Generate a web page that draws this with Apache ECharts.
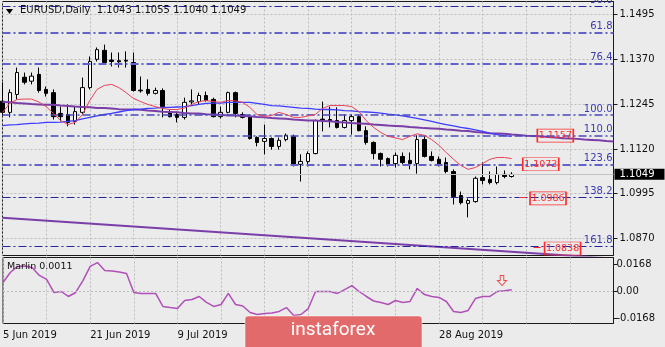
<!DOCTYPE html>
<html><head><meta charset="utf-8">
<script src="https://cdn.jsdelivr.net/npm/echarts@6/dist/echarts.min.js"></script>
<style>html,body{margin:0;padding:0;background:#ebebeb;}#c{width:665px;height:347px;}</style>
</head><body><div id="c"></div>
<script>
// ---- categories (trading days 5 Jun 2019 .. 11 Sep 2019) ----
const junDays = [5,6,7,10,11,12,13,14,17,18,19,20,21,24,25,26,27,28];
const julDays = [1,2,3,4,5,8,9,10,11,12,15,16,17,18,19,22,23,24,25,26,29,30,31];
const augDays = [1,2,5,6,7,8,9,12,13,14,15,16,19,20,21,22,23,26,27,28,29,30];
const sepDays = [2,3,4,5,6,9,10,11];
const tickLabels = ['5 Jun 2019','21 Jun 2019','9 Jul 2019','25 Jul 2019','12 Aug 2019','28 Aug 2019'];
const futureSlots = 14;

// ---- candles ----
const opens  = [1.1253,1.1222,1.1272,1.1320,1.1309,1.1328,1.1286,1.1277,1.1219,1.1216,1.1197,1.1222,1.1291,1.1370,1.1395,1.1368,1.1366,1.1367,1.1361,1.1284,1.1286,1.1275,1.1283,1.1224,1.1216,1.1208,1.1251,1.1252,1.1269,1.1258,1.1210,1.1222,1.1277,1.1216,1.1210,1.1152,1.1141,1.1149,1.1127,1.1146,1.1155,1.1077,1.1085,1.1107,1.1203,1.1202,1.1199,1.1180,1.1199,1.1210,1.1171,1.1138,1.1107,1.1093,1.1079,1.1099,1.1088,1.1079,1.1146,1.1099,1.1091,1.1082,1.1057,1.0990,1.0968,1.0973,1.1040,1.1035,1.1026,1.1049,1.1043];
const closes = [1.1222,1.1277,1.1333,1.1306,1.1323,1.1283,1.1275,1.1210,1.1210,1.1194,1.1224,1.1291,1.1364,1.1397,1.1361,1.1364,1.1363,1.1365,1.1283,1.1282,1.1275,1.1283,1.1238,1.1210,1.1208,1.1250,1.1254,1.1269,1.1255,1.1210,1.1222,1.1277,1.1219,1.1208,1.1149,1.1138,1.1149,1.1127,1.1144,1.1158,1.1074,1.1085,1.1107,1.1199,1.1200,1.1197,1.1180,1.1199,1.1210,1.1171,1.1138,1.1107,1.1091,1.1077,1.1102,1.1082,1.1079,1.1146,1.1099,1.1088,1.1077,1.1057,1.0987,1.0970,1.0976,1.1038,1.1032,1.1026,1.1049,1.1043,1.1049];
const lows   = [1.1212,1.1208,1.1258,1.1300,1.1300,1.1277,1.1266,1.1202,1.1197,1.1183,1.1188,1.1216,1.1286,1.1364,1.1356,1.1350,1.1347,1.1347,1.1280,1.1277,1.1269,1.1272,1.1208,1.1208,1.1194,1.1202,1.1244,1.1244,1.1252,1.1208,1.1205,1.1219,1.1208,1.1205,1.1146,1.1127,1.1105,1.1118,1.1118,1.1141,1.1071,1.1029,1.1071,1.1105,1.1169,1.1180,1.1177,1.1177,1.1160,1.1169,1.1132,1.1091,1.1071,1.1071,1.1068,1.1077,1.1063,1.1051,1.1096,1.1085,1.1071,1.1052,1.0965,1.0965,1.0929,1.0970,1.1021,1.1021,1.1021,1.1038,1.1040];
const highs  = [1.1306,1.1286,1.1347,1.1333,1.1333,1.1347,1.1294,1.1286,1.1238,1.1244,1.1238,1.1319,1.1378,1.1403,1.1411,1.1389,1.1389,1.1392,1.1389,1.1322,1.1314,1.1291,1.1289,1.1230,1.1224,1.1263,1.1286,1.1277,1.1280,1.1263,1.1238,1.1280,1.1280,1.1222,1.1216,1.1155,1.1188,1.1152,1.1152,1.1163,1.1160,1.1105,1.1113,1.1202,1.1252,1.1238,1.1236,1.1216,1.1216,1.1216,1.1183,1.1141,1.1110,1.1096,1.1110,1.1110,1.1110,1.1158,1.1155,1.1113,1.1099,1.1096,1.1063,1.1001,1.0982,1.1043,1.1082,1.1057,1.1071,1.1060,1.1055];

// ---- moving averages ----
const maRed = [1.1222,1.1247,1.1258,1.1259,1.1259,1.1251,1.1238,1.1219,1.1199,1.1188,1.1194,1.1216,1.1255,1.1286,1.1297,1.1300,1.1291,1.1277,1.1261,1.1252,1.1244,1.1238,1.1233,1.1230,1.1230,1.1234,1.1244,1.1252,1.1255,1.1252,1.1250,1.1255,1.1254,1.1250,1.1236,1.1216,1.1211,1.1213,1.1222,1.1216,1.1208,1.1208,1.1212,1.1216,1.1233,1.1241,1.1241,1.1241,1.1238,1.1224,1.1199,1.1180,1.1166,1.1155,1.1151,1.1146,1.1155,1.1162,1.1158,1.1146,1.1130,1.1110,1.1091,1.1074,1.1063,1.1068,1.1079,1.1091,1.1096,1.1096,1.1093];
const maBlue = [1.1185,1.1187,1.1188,1.1190,1.1191,1.1192,1.1194,1.1194,1.1195,1.1197,1.1199,1.1204,1.1208,1.1212,1.1216,1.1219,1.1223,1.1227,1.1230,1.1231,1.1233,1.1234,1.1236,1.1236,1.1237,1.1238,1.1241,1.1244,1.1247,1.1248,1.1248,1.1250,1.1250,1.1250,1.1250,1.1247,1.1244,1.1241,1.1240,1.1238,1.1236,1.1234,1.1233,1.1231,1.1230,1.1230,1.1229,1.1227,1.1226,1.1224,1.1223,1.1222,1.1220,1.1217,1.1215,1.1212,1.1209,1.1205,1.1201,1.1197,1.1192,1.1188,1.1184,1.1180,1.1177,1.1173,1.1169,1.1164,1.1160,1.1157,1.1155];
const maPurple = [1.1251,1.1250,1.1248,1.1247,1.1245,1.1244,1.1243,1.1243,1.1241,1.1240,1.1238,1.1237,1.1236,1.1234,1.1234,1.1233,1.1231,1.1230,1.1230,1.1229,1.1227,1.1226,1.1224,1.1223,1.1222,1.1220,1.1219,1.1219,1.1217,1.1216,1.1215,1.1213,1.1213,1.1212,1.1211,1.1209,1.1208,1.1206,1.1205,1.1204,1.1202,1.1201,1.1199,1.1199,1.1198,1.1197,1.1195,1.1194,1.1192,1.1191,1.1190,1.1188,1.1187,1.1185,1.1184,1.1183,1.1181,1.1180,1.1178,1.1177,1.1176,1.1174,1.1173,1.1171,1.1170,1.1167,1.1166,1.1164,1.1163,1.1162,1.1160,1.1159,1.1157,1.1156,1.1155,1.1153,1.1152,1.1150,1.1149,1.1148,1.1146,1.1145,1.1144,1.1142,1.1141];
const trendStart = [0, 1.0928];
const trendEnd = [84, 1.0814];

// ---- Marlin indicator ----
const marlin = [0.0056,0.0118,0.0156,0.0159,0.0149,0.0100,0.0075,-0.0006,0.0000,-0.0031,-0.0006,0.0068,0.0156,0.0180,0.0131,0.0128,0.0121,0.0112,-0.0006,-0.0012,-0.0012,-0.0012,-0.0093,-0.0100,-0.0106,-0.0056,-0.0050,-0.0031,-0.0068,-0.0093,-0.0081,-0.0012,-0.0081,-0.0090,-0.0131,-0.0143,-0.0137,-0.0134,-0.0124,-0.0100,-0.0149,-0.0143,-0.0106,0.0000,0.0000,0.0000,-0.0012,0.0012,0.0037,0.0000,-0.0031,-0.0059,-0.0068,-0.0081,-0.0056,-0.0068,-0.0062,0.0019,-0.0019,-0.0031,-0.0037,-0.0062,-0.0124,-0.0131,-0.0118,-0.0044,-0.0031,-0.0031,0.0000,0.0005,0.0011];

// ---- levels & ticks ----
const fibNames  = ['50.0','61.8','76.4','100.0','110.0','123.6','138.2','161.8'];
const fibPrices = [1.1517,1.1444,1.1358,1.1214,1.1157,1.1077,1.0986,1.0849];
const priceTicks = [1.0870,1.0995,1.1120,1.1245,1.1370,1.1495];
const marlinTicks = [-0.0168,0,0.0168];
const redLabels = [1.1157,1.1073,1.0986,1.0838];
const redLabelLevels = [1.1157,1.1077,1.0982,1.0842];
const lastPrice = 1.1049;
const header = ['EURUSD,Daily','1.1043','1.1055','1.1040','1.1049'];

// ---- build ----
const dates = [].concat(
  junDays.map(d => d + ' Jun 2019'),
  julDays.map(d => d + ' Jul 2019'),
  augDays.map(d => d + ' Aug 2019'),
  sepDays.map(d => d + ' Sep 2019'));
const categories = dates.slice();
for (let k = 0; k < futureSlots; k++) categories.push('f' + k);
const candles = opens.map((o, i) => [o, closes[i], lows[i], highs[i]]);
const pad = a => a.concat(Array(categories.length - a.length).fill(null));

const FONT = 'DejaVu Sans';
const fibStyle = {
  '50.0':  {color:'#2424a0', width:1},
  '61.8':  {color:'#6262c8', width:2},
  '76.4':  {color:'#6262c8', width:2},
  '100.0': {color:'#4a4abc', width:1.5},
  '110.0': {color:'#4a4abc', width:1.5},
  '123.6': {color:'#6262c8', width:2},
  '138.2': {color:'#2424a0', width:1.2},
  '161.8': {color:'#2424a0', width:1.2}
};
const DASHDOT = [8,3,2,3];
const redPos = [76, 74, 75, 77];

const chart = echarts.init(document.getElementById('c'), null, {renderer:'canvas'});
const gridLine = {show:true, lineStyle:{color:'#bdbdbd', type:[2,2], width:1}};

chart.setOption({
  backgroundColor:'#ebebeb',
  animation:false,
  grid:[
    {left:2.5, top:1.5, width:611, height:254, show:true, borderColor:'#1a1a1a', borderWidth:1, backgroundColor:'transparent'},
    {left:2.5, top:257.5, width:611, height:66, show:true, borderColor:'#1a1a1a', borderWidth:1, backgroundColor:'transparent'}
  ],
  xAxis:[
    {type:'category', gridIndex:0, data:categories, boundaryGap:false,
     axisLine:{show:false}, axisTick:{show:false}, axisLabel:{show:false},
     splitLine:Object.assign({interval:(i)=>i%6===0}, gridLine)},
    {type:'category', gridIndex:1, data:categories, boundaryGap:false,
     axisLine:{show:false}, axisTick:{show:false},
     axisLabel:{show:true, interval:(i, v)=>tickLabels.indexOf(v)>=0, align:'left', margin:7,
       color:'#111', fontSize:10, fontFamily:FONT},
     splitLine:Object.assign({interval:(i)=>i%6===0}, gridLine)}
  ],
  yAxis:[
    {type:'value', gridIndex:0, position:'right', min:1.08226, max:1.15313,
     axisLine:{show:true, lineStyle:{color:'#1a1a1a'}},
     axisTick:{show:true, length:4, customValues:priceTicks, lineStyle:{color:'#1a1a1a'}},
     axisLabel:{show:true, customValues:priceTicks, margin:6, color:'#111', fontSize:10, fontFamily:FONT,
       formatter:(v)=>v.toFixed(4)},
     splitLine:gridLine},
    {type:'value', gridIndex:1, position:'right', min:-0.0199, max:0.02115,
     axisLine:{show:true, lineStyle:{color:'#1a1a1a'}},
     axisTick:{show:true, length:4, customValues:marlinTicks, lineStyle:{color:'#1a1a1a'}},
     axisLabel:{show:true, customValues:marlinTicks, margin:3, color:'#111', fontSize:10, fontFamily:FONT,
       formatter:(v)=>Math.abs(v)<1e-9 ? '0.00' : v.toFixed(4)},
     splitLine:{show:false}}
  ],
  series:[
    {type:'line', name:'levels', xAxisIndex:0, yAxisIndex:0, data:pad([]), symbol:'none', z:1,
     lineStyle:{opacity:0},
     markLine:{silent:true, symbol:['none','none'], animation:false, precision:6,
       label:{show:true, position:'insideEndTop', distance:1, color:'#3b3bb0', fontSize:10, fontFamily:FONT},
       data: fibPrices.map((p, k) => ({
         yAxis:p, name:fibNames[k],
         lineStyle:{color:fibStyle[fibNames[k]].color, width:fibStyle[fibNames[k]].width, type:DASHDOT},
         label:{formatter:fibNames[k]}
       })).concat([{
         yAxis:lastPrice,
         lineStyle:{color:'#c2c2c2', width:1, type:'solid'},
         label:{position:'end', distance:1, formatter:lastPrice.toFixed(4), backgroundColor:'#000', color:'#fff',
                padding:[1,10,0,5], fontSize:10, fontFamily:FONT}
       }]).concat([
         [{coord:[71, redLabels[2]]},{coord:[72, redLabels[2]]}],
         [{coord:[73, 1.0847]},{coord:[74, 1.0847]}]
       ].map(seg => [Object.assign({lineStyle:{color:'#ff2a2a', width:1, type:'solid'}, label:{show:false}}, seg[0]), seg[1]]))
     },
     markPoint:{silent:true, animation:false,
       data: redLabels.map((p, k) => ({
         coord:[redPos[k], redLabelLevels[k]],
         symbol:'rect', symbolSize:[36,13],
         itemStyle:{color:'rgba(0,0,0,0)', borderColor:'#ff2a2a', borderWidth:1},
         label:{show:true, position:'inside', formatter:p.toFixed(4), color:'#ff2a2a', fontSize:9.5, fontFamily:FONT}
       }))
     }
    },
    {type:'candlestick', name:'EURUSD', xAxisIndex:0, yAxisIndex:0, data:candles, barWidth:4, z:2,
     itemStyle:{color:'#ffffff', color0:'#000000', borderColor:'#000000', borderColor0:'#000000', borderWidth:1}},
    {type:'line', name:'trend', xAxisIndex:0, yAxisIndex:0, data:[trendStart, trendEnd], symbol:'none', z:3,
     lineStyle:{color:'#7a3ea8', width:2}},
    {type:'line', name:'maPurple', xAxisIndex:0, yAxisIndex:0, data:pad(maPurple), symbol:'none', z:3,
     lineStyle:{color:'#7a3ea8', width:2}},
    {type:'line', name:'maBlue', xAxisIndex:0, yAxisIndex:0, data:pad(maBlue), symbol:'none', z:4,
     lineStyle:{color:'#3d3dff', width:1.3}},
    {type:'line', name:'maRed', xAxisIndex:0, yAxisIndex:0, data:pad(maRed), symbol:'none', z:5,
     lineStyle:{color:'#e8425a', width:1}},
    {type:'line', name:'Marlin', xAxisIndex:1, yAxisIndex:1, data:pad(marlin), symbol:'none', z:3,
     lineStyle:{color:'#b050b8', width:1.5},
     markLine:{silent:true, symbol:['none','none'], animation:false, precision:6, label:{show:false},
       data:[{yAxis:0, lineStyle:{color:'#bdbdbd', type:[2,2], width:1}}]},
     markPoint:{silent:true, animation:false,
       data:[{coord:[69, 0.0068], symbol:'path://M3,0 L7,0 L7,5 L10,5 L5,10 L0,5 L3,5 Z',
              symbolSize:[9,10], symbolOffset:[-2.5,0],
              itemStyle:{color:'rgba(0,0,0,0)', borderColor:'#f04848', borderWidth:1}, label:{show:false}}]}
    }
  ],
  graphic:[
    {type:'polygon', shape:{points:[[6,9],[13,9],[9.5,14]]}, style:{fill:'#000'}, z:100},
    {type:'text', x:20, y:5, z:100, style:{text:header[0] + '  ' + header.slice(1).join(' '),
      font:'10px "DejaVu Sans"', fill:'#111', textVerticalAlign:'top'}},
    {type:'text', x:7, y:262, z:100, style:{text:'Marlin ' + marlin[marlin.length-1].toFixed(4),
      font:'9.5px "DejaVu Sans"', fill:'#111', textVerticalAlign:'top'}},
    {type:'rect', z:200, zlevel:1, shape:{x:245, y:316, width:177, height:40, r:3},
     style:{fill:'#e36a6a', stroke:'rgba(255,255,255,0.5)', lineWidth:1}},
    {type:'text', z:201, zlevel:1, x:333, y:330, style:{text:'instaforex', font:'19px Roboto', fill:'#ffffff',
      textAlign:'center', textVerticalAlign:'middle'}}
  ]
});
</script></body></html>
